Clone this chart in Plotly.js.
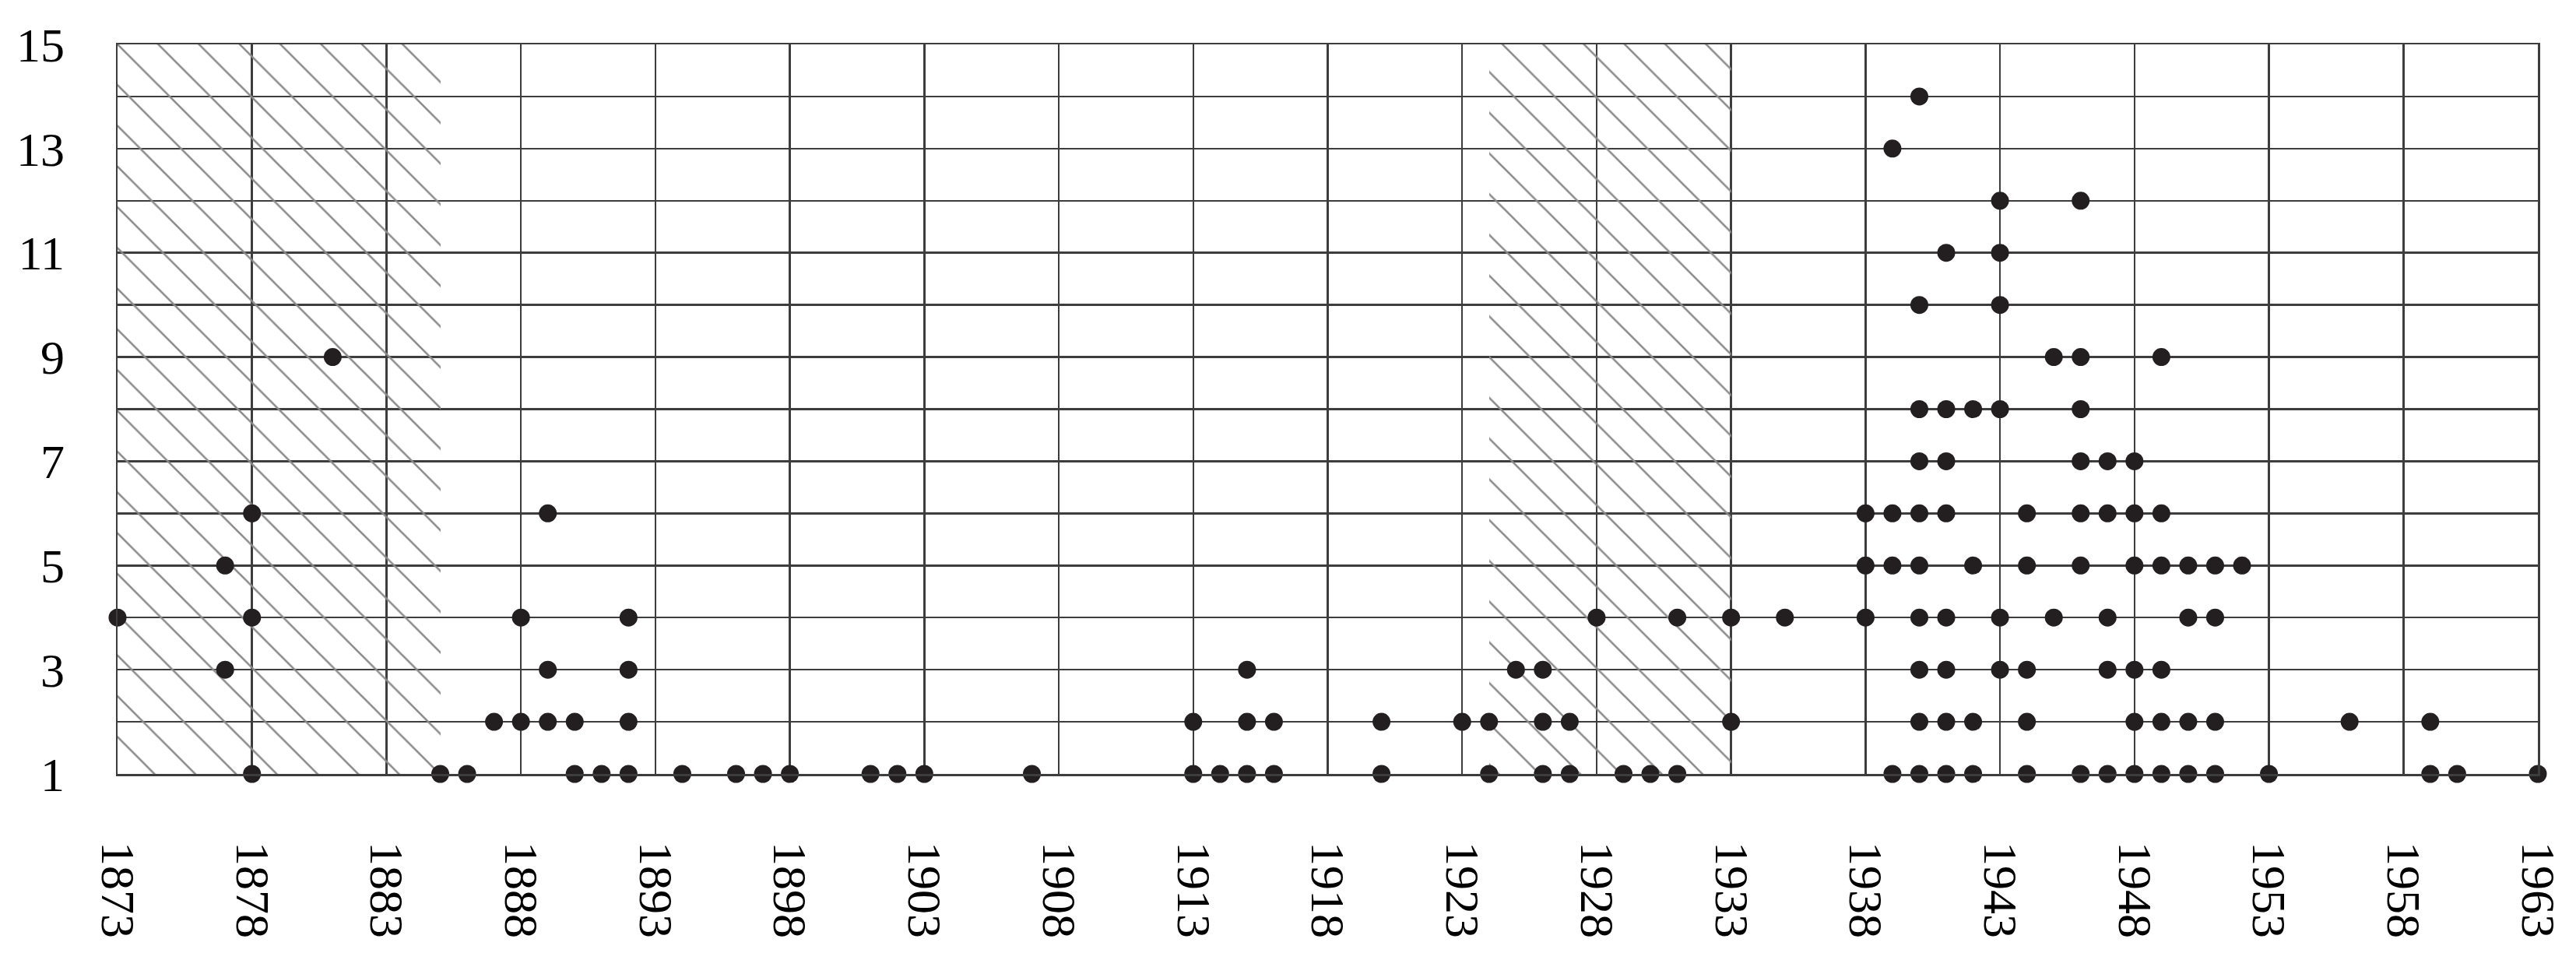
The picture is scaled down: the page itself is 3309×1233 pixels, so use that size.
<!DOCTYPE html>
<html>
<head>
<meta charset="utf-8">
<script src="https://cdn.plot.ly/plotly-3.0.1.min.js"></script>
<style>
  html, body { margin: 0; padding: 0; background: #fff; }
  #chart { width: 3309px; height: 1233px; }
</style>
</head>
<body>
<div id="chart"></div>
<script>
// 年ごとの件数（点）: years[i] と counts[i] が 1 点に対応
const years = [
  1873,
  1877, 1877,
  1878, 1878, 1878,
  1881,
  1885, 1886, 1887,
  1888, 1888,
  1889, 1889, 1889,
  1890, 1890,
  1891,
  1892, 1892, 1892, 1892,
  1894, 1896, 1897, 1898, 1901, 1902, 1903, 1907,
  1913, 1913,
  1914,
  1915, 1915, 1915,
  1916, 1916,
  1920, 1920,
  1923,
  1924, 1924,
  1925,
  1926, 1926, 1926,
  1927, 1927,
  1928, 1929, 1930,
  1931, 1931,
  1933, 1933,
  1935,
  1938, 1938, 1938,
  1939, 1939, 1939, 1939,
  1940, 1940, 1940, 1940, 1940, 1940, 1940, 1940, 1940, 1940,
  1941, 1941, 1941, 1941, 1941, 1941, 1941, 1941,
  1942, 1942, 1942, 1942,
  1943, 1943, 1943, 1943, 1943, 1943,
  1944, 1944, 1944, 1944, 1944,
  1945, 1945,
  1946, 1946, 1946, 1946, 1946, 1946, 1946,
  1947, 1947, 1947, 1947, 1947,
  1948, 1948, 1948, 1948, 1948, 1948,
  1949, 1949, 1949, 1949, 1949, 1949,
  1950, 1950, 1950, 1950,
  1951, 1951, 1951, 1951,
  1952, 1953, 1956,
  1959, 1959,
  1960, 1963,
];
const counts = [
  4,
  3, 5,
  1, 4, 6,
  9,
  1, 1, 2,
  2, 4,
  2, 3, 6,
  1, 2,
  1,
  1, 2, 3, 4,
  1, 1, 1, 1, 1, 1, 1, 1,
  1, 2,
  1,
  1, 2, 3,
  1, 2,
  1, 2,
  2,
  1, 2,
  3,
  1, 2, 3,
  1, 2,
  4, 1, 1,
  1, 4,
  2, 4,
  4,
  4, 5, 6,
  1, 5, 6, 13,
  1, 2, 3, 4, 5, 6, 7, 8, 10, 14,
  1, 2, 3, 4, 6, 7, 8, 11,
  1, 2, 5, 8,
  3, 4, 8, 10, 11, 12,
  1, 2, 3, 5, 6,
  4, 9,
  1, 5, 6, 7, 8, 9, 12,
  1, 3, 4, 6, 7,
  1, 2, 3, 5, 6, 7,
  1, 2, 3, 5, 6, 9,
  1, 2, 4, 5,
  1, 2, 4, 5,
  5, 1, 2,
  1, 2,
  1, 1,
];

// 斜線で塗る期間
const shadeStart = [1873, 1924];
const shadeEnd = [1885, 1933];

// 軸目盛
const xTickVals = [1873, 1878, 1883, 1888, 1893, 1898, 1903, 1908, 1913, 1918,
  1923, 1928, 1933, 1938, 1943, 1948, 1953, 1958, 1963];
const yTickVals = [1, 2, 3, 4, 5, 6, 7, 8, 9, 10, 11, 12, 13, 14, 15];
const yTickText = ['1', '', '3', '', '5', '', '7', '', '9', '', '11', '', '13', '', '15'];

const GRID = '#3d3d3d';
const FONT = { family: '"Liberation Serif", "DejaVu Serif", serif', color: '#000', size: 62 };

// 斜線の帯（棒グラフのパターン塗りで描く）
const shade = {
  type: 'bar',
  x: shadeStart.map((s, i) => (s + shadeEnd[i]) / 2),
  width: shadeStart.map((s, i) => shadeEnd[i] - s),
  base: shadeStart.map(() => 1),
  y: shadeStart.map(() => 14),
  marker: {
    color: '#8a8a8a',
    line: { width: 0 },
    pattern: { shape: '\\', fgcolor: '#8a8a8a', bgcolor: 'rgba(0,0,0,0)', size: 37, solidity: 0.07, fillmode: 'replace' },
  },
  hoverinfo: 'skip',
  showlegend: false,
};

const dots = {
  type: 'scatter',
  mode: 'markers',
  x: years,
  y: counts,
  cliponaxis: false,
  marker: { color: '#231f20', size: 23, line: { width: 0 } },
  showlegend: false,
};

const layout = {
  width: 3309,
  height: 1233,
  margin: { l: 151, r: 49, t: 57, b: 239 },
  paper_bgcolor: '#fff',
  plot_bgcolor: '#fff',
  font: FONT,
  bargap: 0,
  xaxis: {
    range: [1873, 1963],
    tickmode: 'array',
    tickvals: xTickVals,
    tickangle: 90,
    ticks: '',
    ticklabelstandoff: 72,
    showgrid: true, gridcolor: GRID, gridwidth: 2.5,
    zeroline: false,
    showline: true, mirror: true, linecolor: GRID, linewidth: 2.5,
    tickfont: { size: 62 },
  },
  yaxis: {
    range: [1, 15],
    tickmode: 'array',
    tickvals: yTickVals,
    ticktext: yTickText,
    ticks: '',
    ticklabelstandoff: 53,
    showgrid: true, gridcolor: GRID, gridwidth: 2.5,
    zeroline: false,
    showline: true, mirror: true, linecolor: GRID, linewidth: 2.5,
    tickfont: { size: 62 },
  },
};

Plotly.newPlot('chart', [shade, dots], layout, { displayModeBar: false, staticPlot: true });
</script>
</body>
</html>
